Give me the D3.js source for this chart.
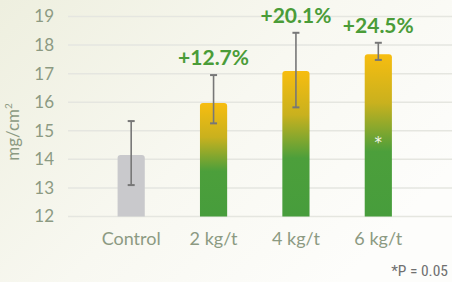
<!DOCTYPE html>
<html>
<head>
<meta charset="utf-8">
<script src="https://cdn.jsdelivr.net/npm/d3@7"></script>
<style>
  html, body { margin: 0; padding: 0; }
  body { width: 452px; height: 282px; overflow: hidden; }
  svg { display: block; }
</style>
</head>
<body>
<script>
// data
const categories = ['Control', '2 kg/t', '4 kg/t', '6 kg/t'];
const means = [14.15, 15.97, 17.09, 17.68];
const errLow = [13.1, 15.26, 15.82, 17.48];
const errHigh = [15.34, 16.95, 18.43, 18.08];
const gains = [null, '+12.7%', '+20.1%', '+24.5%'];
const significant = [false, false, false, true];
const yTicks = [12, 13, 14, 15, 16, 17, 18, 19];

const width = 452;
const height = 282;

const svg = d3.select('body')
  .append('svg')
  .attr('width', width)
  .attr('height', height);

const defs = svg.append('defs');

// background wash
const bg = defs.append('linearGradient')
  .attr('id', 'bg')
  .attr('x1', '0').attr('y1', '0')
  .attr('x2', '1').attr('y2', '0.6');
bg.append('stop').attr('offset', '0').attr('stop-color', '#eeefdf');
bg.append('stop').attr('offset', '0.55').attr('stop-color', '#f8f8f1');
bg.append('stop').attr('offset', '1').attr('stop-color', '#fdfdfb');

// bar fill: yellow top fading into green
const barGrad = defs.append('linearGradient')
  .attr('id', 'barGrad')
  .attr('x1', '0').attr('y1', '0')
  .attr('x2', '0').attr('y2', '1');
barGrad.append('stop').attr('offset', '0').attr('stop-color', '#f7bd10');
barGrad.append('stop').attr('offset', '0.3').attr('stop-color', '#c9b11e');
barGrad.append('stop').attr('offset', '0.6').attr('stop-color', '#4c9f3b');
barGrad.append('stop').attr('offset', '1').attr('stop-color', '#479d3c');

svg.append('rect')
  .attr('width', width)
  .attr('height', height)
  .attr('fill', 'url(#bg)');

const y = d3.scaleLinear()
  .domain([12, 19])
  .range([216.5, 16.5]);

const x = d3.scaleBand()
  .domain(categories)
  .range([90, 419.5])
  .paddingInner(0.67)
  .paddingOuter(0.335);

// gridlines
svg.append('g')
  .selectAll('line')
  .data(yTicks)
  .enter()
  .append('line')
  .attr('x1', 68)
  .attr('x2', width)
  .attr('y1', d => y(d))
  .attr('y2', d => y(d))
  .attr('stroke', '#e5e6e0')
  .attr('stroke-width', 1.5);

// y axis labels
const yAxis = svg.append('g')
  .attr('transform', 'translate(54,0)')
  .call(d3.axisLeft(y).tickValues(yTicks).tickFormat(d3.format('d')).tickSize(0).tickPadding(0));
yAxis.select('.domain').remove();
yAxis.selectAll('text')
  .attr('font-family', 'Lato, sans-serif')
  .attr('font-size', 17)
  .attr('fill', '#8c9a82');

svg.append('text')
  .attr('transform', 'translate(19,132) rotate(-90)')
  .attr('text-anchor', 'middle')
  .attr('font-family', 'Lato, sans-serif')
  .attr('font-size', 17)
  .attr('fill', '#8c9a82')
  .text('mg/cm')
  .append('tspan')
  .attr('font-size', 10)
  .attr('dy', -7)
  .text('2');

// bars with slightly rounded tops
const r = 3;
const barPath = (i) => {
  const x0 = x(categories[i]);
  const w = x.bandwidth();
  const top = y(means[i]);
  const bot = y(12);
  return `M${x0},${bot}V${top + r}Q${x0},${top} ${x0 + r},${top}` +
    `H${x0 + w - r}Q${x0 + w},${top} ${x0 + w},${top + r}V${bot}Z`;
};

svg.append('g')
  .selectAll('path')
  .data(categories)
  .enter()
  .append('path')
  .attr('d', (d, i) => barPath(i))
  .attr('fill', (d, i) => i === 0 ? '#c9c9cc' : 'url(#barGrad)');

// error bars
const errs = svg.append('g')
  .selectAll('g')
  .data(categories)
  .enter()
  .append('g')
  .attr('stroke', '#777777')
  .attr('stroke-width', 1.6);
errs.append('line')
  .attr('x1', d => x(d) + x.bandwidth() / 2)
  .attr('x2', d => x(d) + x.bandwidth() / 2)
  .attr('y1', (d, i) => y(errLow[i]))
  .attr('y2', (d, i) => y(errHigh[i]));
[errLow, errHigh].forEach(arr => {
  errs.append('line')
    .attr('x1', d => x(d) + x.bandwidth() / 2 - 3.5)
    .attr('x2', d => x(d) + x.bandwidth() / 2 + 3.5)
    .attr('y1', (d, i) => y(arr[i]))
    .attr('y2', (d, i) => y(arr[i]))
    .attr('stroke-width', 2);
});

// percentage gains
svg.append('g')
  .selectAll('text')
  .data(categories)
  .enter()
  .filter((d, i) => gains[i])
  .append('text')
  .attr('x', d => x(d) + x.bandwidth() / 2)
  .attr('y', d => y(errHigh[categories.indexOf(d)]) - 10)
  .attr('text-anchor', 'middle')
  .attr('font-family', 'Lato, sans-serif')
  .attr('font-weight', 'bold')
  .attr('font-size', 21)
  .attr('fill', '#4a9c38')
  .text(d => gains[categories.indexOf(d)]);

// significance mark
svg.append('g')
  .selectAll('text')
  .data(categories.filter((d, i) => significant[i]))
  .enter()
  .append('text')
  .attr('x', d => x(d) + x.bandwidth() / 2)
  .attr('y', 148)
  .attr('text-anchor', 'middle')
  .attr('font-family', '"DejaVu Sans", sans-serif')
  .attr('font-size', 15)
  .attr('fill', '#f4f6ee')
  .text('*');

// category labels
svg.append('g')
  .selectAll('text')
  .data(categories)
  .enter()
  .append('text')
  .attr('x', d => x(d) + x.bandwidth() / 2)
  .attr('y', 245)
  .attr('text-anchor', 'middle')
  .attr('font-family', 'Lato, sans-serif')
  .attr('font-size', 18)
  .attr('fill', '#8c9a82')
  .text(d => d);

svg.append('text')
  .attr('x', 448)
  .attr('y', 276)
  .attr('text-anchor', 'end')
  .attr('font-family', '"Liberation Sans Narrow", "Roboto Condensed", sans-serif')
  .attr('font-size', 15.5)
  .attr('fill', '#707070')
  .text('*P = 0.05');
</script>
</body>
</html>
